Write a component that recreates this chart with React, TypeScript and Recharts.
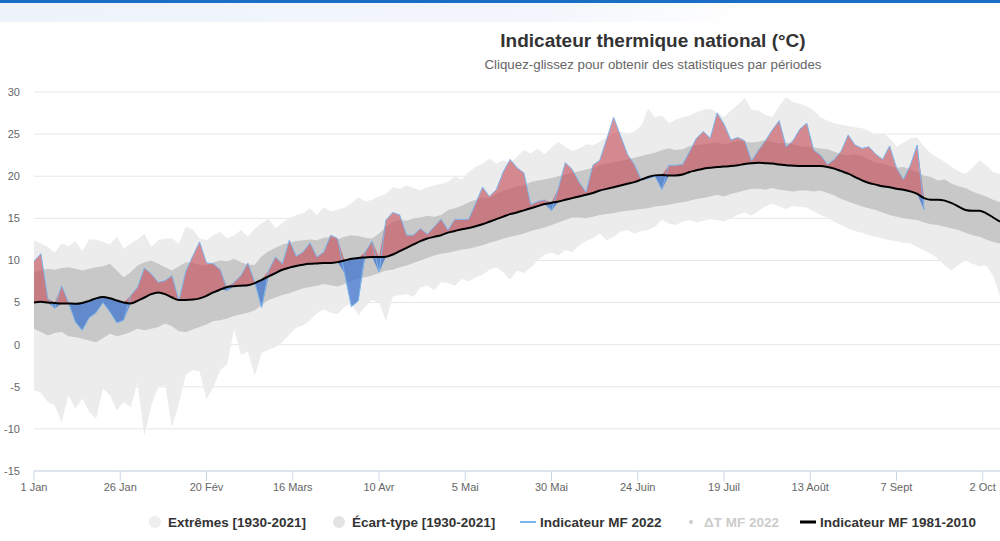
import { ComposedChart, Area, Line, XAxis, YAxis, CartesianGrid } from "recharts";

// one sample every 2 days, day 0 = 1 Jan
const days = Array.from({ length: 141 }, (_, i) => i * 2);
const tickDays = [0, 25, 50, 75, 100, 125, 150, 175, 200, 225, 250, 275];
const tickLabels = ["1 Jan", "26 Jan", "20 Fév", "16 Mars", "10 Avr", "5 Mai", "30 Mai", "24 Juin", "19 Juil", "13 Août", "7 Sept", "2 Oct"];
const yTicks = [-15, -10, -5, 0, 5, 10, 15, 20, 25, 30];

// Indicateur MF 1981-2010
const normal = [
  5.0, 5.1, 5.0, 4.95, 4.9, 4.9, 4.85, 4.95, 5.2, 5.5,
  5.65, 5.5, 5.25, 5.0, 4.9, 5.2, 5.6, 6.0, 6.2, 6.0,
  5.6, 5.3, 5.3, 5.35, 5.5, 5.8, 6.2, 6.55, 6.85, 6.95,
  7.0, 7.05, 7.3, 7.7, 8.1, 8.5, 8.9, 9.15, 9.35, 9.5,
  9.6, 9.65, 9.7, 9.7, 9.8, 10.0, 10.2, 10.3, 10.35, 10.4,
  10.4, 10.45, 10.7, 11.1, 11.5, 11.9, 12.3, 12.6, 12.8, 13.0,
  13.3, 13.5, 13.7, 13.85, 14.05, 14.3, 14.6, 14.9, 15.2, 15.5,
  15.7, 15.95, 16.2, 16.45, 16.7, 16.85, 17.0, 17.2, 17.4, 17.6,
  17.8, 18.0, 18.3, 18.5, 18.7, 18.9, 19.1, 19.3, 19.6, 19.9,
  20.1, 20.15, 20.1, 20.1, 20.2, 20.5, 20.7, 20.9, 21.0, 21.1,
  21.15, 21.2, 21.3, 21.45, 21.55, 21.6, 21.55, 21.5, 21.4, 21.3,
  21.25, 21.2, 21.2, 21.2, 21.2, 21.1, 20.9, 20.6, 20.3, 19.9,
  19.5, 19.2, 19.0, 18.8, 18.7, 18.5, 18.4, 18.2, 17.9, 17.4,
  17.2, 17.2, 17.1, 16.8, 16.4, 16.0, 15.9, 15.9, 15.6, 15.1,
  14.6,
];

// Indicateur MF 2022 (stops mid-September)
const mf2022 = [
  9.9, 10.8, 5.5, 4.3, 7.0, 5.0, 2.7, 1.7, 3.2, 3.8,
  5.0, 3.9, 2.6, 2.9, 5.8, 6.8, 9.1, 8.4, 7.4, 7.6,
  8.2, 5.2, 8.7, 10.5, 12.2, 9.7, 9.6, 8.9, 6.4, 7.4,
  8.2, 9.7, 7.4, 4.4, 8.8, 10.4, 9.6, 12.4, 10.5, 11.0,
  12.1, 10.4, 11.0, 13.0, 12.6, 8.5, 4.5, 5.2, 11.0, 12.3,
  8.6, 14.8, 15.7, 15.4, 13.0, 13.0, 13.8, 13.1, 14.0, 14.9,
  13.6, 14.9, 14.85, 14.9, 16.75, 18.7, 17.6, 18.4, 20.5, 22.0,
  21.0, 20.4, 16.6, 17.0, 17.2, 15.9, 18.6, 21.6, 20.8, 19.3,
  18.1, 21.3, 21.9, 24.4, 27.0, 24.8, 22.6, 21.4, 19.6, 19.7,
  20.0, 18.4, 21.3, 21.3, 21.4, 22.9, 24.5, 25.3, 24.5, 27.5,
  26.2, 24.3, 24.6, 24.2, 21.8, 23.1, 24.2, 25.5, 26.6, 23.5,
  24.2, 25.6, 26.3, 23.1, 22.5, 21.4, 22.0, 23.0, 24.9, 23.7,
  23.3, 23.5, 22.6, 22.0, 23.6, 21.0, 19.6, 21.3, 23.7, 16.0,
];

// Écart-type [1930-2021]
const stdHigh = [
  8.6, 8.8, 9.0, 8.9, 9.1, 9.2, 9.0, 8.8, 9.0, 9.2,
  9.3, 9.6, 8.8, 8.0, 8.6, 9.4, 9.8, 10.0, 9.6, 9.2,
  8.8, 9.3, 9.8, 9.7, 9.5, 9.4, 9.8, 10.0, 9.9, 10.2,
  9.8, 9.5, 9.5, 10.5, 11.1, 11.5, 11.9, 12.1, 12.3, 12.4,
  12.5, 12.4, 12.7, 12.8, 12.5, 12.8, 13.0, 12.9, 12.7, 12.6,
  13.2, 14.0, 14.6, 14.8, 14.7, 15.0, 15.1, 15.3, 15.2, 15.4,
  16.0, 16.2, 16.5, 16.9, 17.2, 17.5, 17.4, 17.9, 18.3, 18.5,
  18.8, 18.9, 19.3, 19.5, 19.6, 19.8, 20.0, 20.2, 20.4, 20.6,
  20.8, 21.0, 21.3, 21.5, 21.7, 21.8, 22.0, 22.2, 22.4, 22.6,
  22.8, 23.1, 23.3, 23.1, 23.2, 23.6, 23.7, 23.8, 23.9, 24.0,
  23.8, 24.0, 24.2, 24.1, 24.0, 24.1, 24.3, 24.1, 23.9, 24.0,
  23.8, 23.6, 23.5, 23.4, 23.3, 23.2, 22.9, 22.6, 22.5, 22.6,
  22.4, 22.0, 21.6, 21.5, 21.2, 21.0, 21.1, 20.8, 20.5, 20.1,
  19.9, 19.5, 19.6, 19.1, 18.8, 18.6, 18.2, 17.9, 17.6, 17.2,
  16.9,
];
const stdLow = [
  1.9, 1.5, 1.1, 1.4, 1.5, 1.0, 0.9, 0.7, 0.5, 0.3,
  0.8, 1.3, 1.0, 1.2, 1.5, 1.9, 1.7, 1.9, 2.1, 2.5,
  2.2, 1.6, 1.5, 1.8, 2.1, 2.4, 2.8, 2.9, 3.1, 3.4,
  3.6, 3.8, 4.1, 4.7, 5.3, 5.6, 5.9, 6.1, 6.4, 6.7,
  6.85, 7.0, 7.2, 7.05, 6.9, 7.2, 7.6, 7.85, 8.0, 8.2,
  8.5, 8.8, 8.9, 9.2, 9.4, 9.7, 10.0, 10.3, 10.6, 10.8,
  10.9, 11.1, 11.3, 11.4, 11.6, 11.8, 12.1, 12.3, 12.6, 12.8,
  13.0, 13.2, 13.5, 13.7, 13.9, 14.2, 14.5, 14.8, 15.1, 15.1,
  15.0, 15.2, 15.4, 15.5, 15.6, 15.8, 15.9, 16.0, 16.1, 16.2,
  16.4, 16.5, 16.6, 16.8, 16.9, 17.1, 17.3, 17.4, 17.6, 17.8,
  17.6, 17.9, 18.1, 18.3, 18.5, 18.5, 18.4, 18.6, 18.4, 18.3,
  18.2, 18.3, 18.3, 18.2, 18.3, 18.0, 17.7, 17.3, 17.0, 16.7,
  16.4, 16.2, 16.0, 15.7, 15.4, 15.2, 15.0, 14.9, 14.8, 14.5,
  14.3, 14.2, 14.0, 13.8, 13.6, 13.3, 13.0, 12.8, 12.5, 12.2,
  12.0,
];

// Extrêmes [1930-2021]
const extMax = [
  12.4, 12.0, 11.6, 10.9, 12.0, 11.7, 12.3, 11.1, 12.5, 12.5,
  12.2, 11.9, 12.8, 11.4, 12.0, 12.5, 13.2, 11.6, 12.4, 12.6,
  12.6, 12.0, 14.0, 13.7, 12.6, 12.4, 13.0, 13.4, 12.6, 13.0,
  13.6, 12.8, 13.8, 14.4, 15.0, 13.8, 14.5, 15.0, 15.4, 15.6,
  16.2, 15.4, 16.3, 15.8, 16.0, 16.3, 16.8, 17.5, 17.0, 17.2,
  17.6, 17.9, 18.7, 18.5, 18.9, 18.6, 18.3, 18.7, 18.9, 19.1,
  19.3, 20.0, 19.6, 20.5, 21.1, 21.5, 22.1, 21.5, 21.9, 21.5,
  22.3, 23.1, 22.7, 23.3, 22.6, 23.4, 24.1, 23.5, 23.0, 23.3,
  23.8, 23.7, 24.1, 24.6, 25.1, 25.3, 25.0, 25.3, 26.0, 28.0,
  27.0, 27.2, 26.3, 26.7, 27.0, 27.2, 27.6, 27.9, 28.0, 27.6,
  27.0, 27.8, 28.5, 29.3, 27.9, 27.8, 27.3, 27.0, 28.3, 29.4,
  28.8, 28.6, 28.3, 27.8, 27.0, 26.6, 26.3, 26.1, 26.0, 25.8,
  25.7, 25.4, 24.9, 25.1, 24.5, 23.5, 24.0, 24.5, 24.6, 23.5,
  22.7, 22.2, 21.7, 21.1, 20.6, 20.3, 21.0, 21.9, 21.3, 20.5,
  20.3,
];
const extMin = [
  -5.4, -5.7, -6.8, -7.2, -9.2, -6.0, -7.6, -6.4, -8.0, -8.8,
  -5.2, -6.0, -7.8, -6.8, -7.4, -4.5, -10.8, -7.2, -5.0, -4.8,
  -9.8, -7.0, -3.6, -3.0, -3.2, -6.5, -5.0, -3.0, -2.3, 1.8,
  -1.2, -0.8, -3.7, -1.0, -0.6, -0.3, 0.3, 1.2, 2.0, 2.3,
  2.9, 3.7, 4.2, 3.8, 3.6, 4.5, 4.9, 3.5, 4.5, 5.3,
  5.0, 2.8, 5.7, 5.9, 6.0, 5.7, 6.8, 7.0, 6.5, 7.4,
  7.3, 7.0, 7.8, 7.5, 8.0, 8.3, 8.9, 9.2, 8.6, 7.7,
  8.8, 8.5, 9.2, 10.0, 10.7, 10.9, 10.6, 11.2, 11.0, 11.8,
  12.3, 12.6, 13.2, 12.4, 12.8, 13.4, 13.6, 13.2, 13.5, 13.6,
  14.0, 14.8, 14.4, 14.2, 14.6, 14.8, 14.5, 14.7, 14.9, 14.8,
  14.6, 15.0, 15.4, 15.7, 15.3, 15.9, 16.4, 16.75, 16.4, 16.1,
  16.5, 16.35, 16.3, 15.8, 15.4, 15.1, 14.6, 14.2, 13.8, 13.5,
  13.3, 13.0, 12.8, 12.6, 12.4, 12.3, 12.1, 12.0, 11.6, 11.2,
  10.8, 10.2, 9.4, 8.8, 9.5, 10.0, 9.6, 9.3, 9.4, 8.2,
  5.7,
];

const rows = days.map((day, i) => {
  const n = normal[i];
  const t = i < mf2022.length ? mf2022[i] : null;
  return {
    day,
    normal: n,
    mf2022: t,
    extremes: [extMin[i], extMax[i]],
    ecart: [stdLow[i], stdHigh[i]],
    above: t == null ? null : [n, Math.max(t, n)],
    below: t == null ? null : [Math.min(t, n), n],
  };
});

const font = "'Liberation Sans', Arial, sans-serif";

const legendItems = [
  { label: "Extrêmes [1930-2021]", x: 148, kind: "circle", color: "#eeeeee" },
  { label: "Écart-type [1930-2021]", x: 332, kind: "circle", color: "#e3e3e3" },
  { label: "Indicateur MF 2022", x: 520, kind: "line", color: "#7cb5ec" },
  { label: "ΔT MF 2022", x: 684, kind: "dot", color: "#cccccc" },
  { label: "Indicateur MF 1981-2010", x: 800, kind: "bold", color: "#000000" },
];

export default function App() {
  return (
    <div style={{ position: "absolute", left: 0, top: 0, width: 1000, height: 541, overflow: "hidden", background: "#fff", fontFamily: font }}>
      <div style={{ position: "absolute", left: 0, top: 0, width: 1000, height: 3, background: "#1a6fc4" }} />
      <div style={{ position: "absolute", left: 0, top: 3, width: 1000, height: 19, background: "linear-gradient(to right, #eef3fb 0%, #f3f6fc 55%, #ffffff 75%)" }} />
      <div style={{ position: "absolute", left: 403, width: 500, top: 30, textAlign: "center", fontSize: 19, fontWeight: 700, color: "#333" }}>
        Indicateur thermique national (°C)
      </div>
      <div style={{ position: "absolute", left: 403, width: 500, top: 57, textAlign: "center", fontSize: 13.3, color: "#666" }}>
        Cliquez-glissez pour obtenir des statistiques par périodes
      </div>

      <ComposedChart width={1000} height={541} data={rows} margin={{ top: 92, right: 0, bottom: 40, left: 0 }} style={{ position: "absolute", left: 0, top: 0 }}>
        <CartesianGrid vertical={false} stroke="#e6e6e6" />
        <XAxis
          dataKey="day"
          type="number"
          domain={[0, 280]}
          ticks={tickDays}
          interval={0}
          tickFormatter={(v: number) => tickLabels[tickDays.indexOf(v)]}
          tick={{ fill: "#666", fontSize: 11, fontFamily: font }}
          tickLine={{ stroke: "#ccd6eb" }}
          axisLine={{ stroke: "#ccd6eb" }}
          tickSize={10}
          height={30}
        />
        <YAxis
          type="number"
          domain={[-15, 30]}
          ticks={yTicks}
          width={34}
          tickSize={0}
          tickMargin={14}
          axisLine={false}
          tickLine={false}
          tick={{ fill: "#666", fontSize: 11, fontFamily: font }}
        />
        <Area dataKey="extremes" type="linear" stroke="none" fill="#ececec" fillOpacity={1} isAnimationActive={false} />
        <Area dataKey="ecart" type="linear" stroke="none" fill="#c8c8c8" fillOpacity={1} isAnimationActive={false} />
        <Area dataKey="above" type="linear" stroke="none" fill="#c6505a" fillOpacity={0.64} isAnimationActive={false} />
        <Area dataKey="below" type="linear" stroke="none" fill="#3f74cc" fillOpacity={0.75} isAnimationActive={false} />
        <Line dataKey="mf2022" type="linear" stroke="#7cb5ec" strokeWidth={1} dot={false} isAnimationActive={false} />
        <Line dataKey="normal" type="monotone" stroke="#000" strokeWidth={2} dot={false} isAnimationActive={false} />
      </ComposedChart>

      {legendItems.map((it) => (
        <div key={it.label} style={{ position: "absolute", left: it.x, top: 513, height: 18, display: "flex", alignItems: "center", fontSize: 13.5, fontWeight: 700, color: it.kind === "dot" ? "#cccccc" : "#333" }}>
          <svg width={18} height={18} style={{ marginRight: 2 }}>
            {it.kind === "circle" && <circle cx={7} cy={9} r={6} fill={it.color} />}
            {it.kind === "line" && <line x1={0} x2={16} y1={9} y2={9} stroke={it.color} strokeWidth={2} />}
            {it.kind === "dot" && <circle cx={7} cy={9} r={2} fill={it.color} />}
            {it.kind === "bold" && <line x1={0} x2={16} y1={9} y2={9} stroke={it.color} strokeWidth={3} />}
          </svg>
          {it.label}
        </div>
      ))}
    </div>
  );
}
